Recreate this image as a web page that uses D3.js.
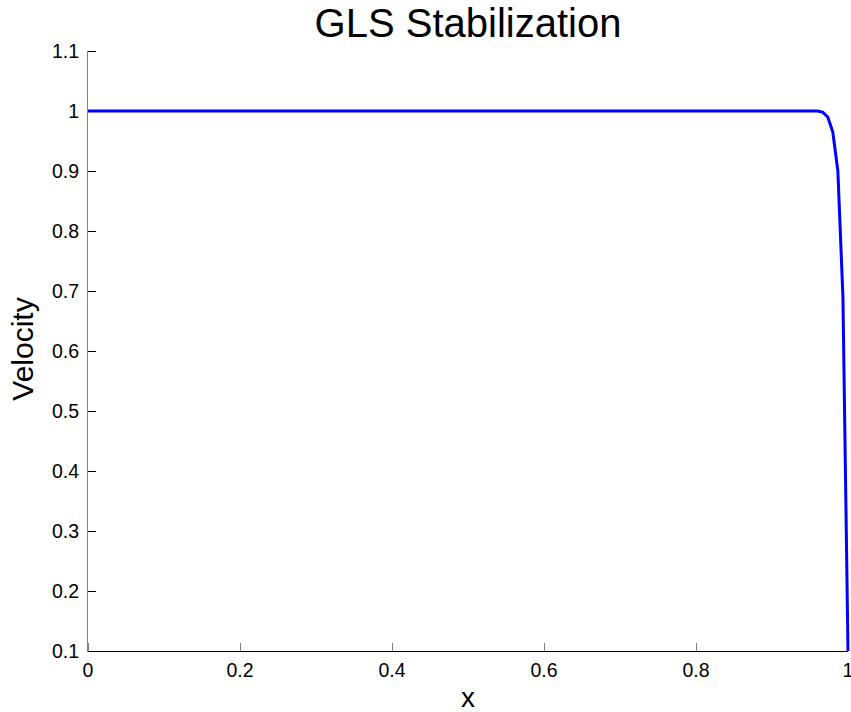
<!DOCTYPE html>
<html>
<head>
<meta charset="utf-8">
<script src="https://cdn.jsdelivr.net/npm/d3@7"></script>
<style>
  html, body { margin: 0; padding: 0; background: #fff; }
  svg { display: block; font-family: "Liberation Sans", Arial, sans-serif; }
</style>
</head>
<body>
<svg id="chart" width="851" height="712"></svg>
<script>
// Velocity profile along x (GLS-stabilized solution, boundary layer at x = 1)
const xNodes    = [0, 0.96, 0.966667, 0.973333, 0.98, 0.986667, 0.993333, 1.0];
const velocity  = [1, 1,    0.998,    0.99,     0.965, 0.90,    0.69,     0.1];

const xTicks = [0, 0.2, 0.4, 0.6, 0.8, 1];
const yTicks = [0.1, 0.2, 0.3, 0.4, 0.5, 0.6, 0.7, 0.8, 0.9, 1, 1.1];
const yTickLabels = ["0.1", "0.2", "0.3", "0.4", "0.5", "0.6", "0.7", "0.8", "0.9", "1", "1.1"];
const xTickLabels = ["0", "0.2", "0.4", "0.6", "0.8", "1"];

const titleText = "GLS Stabilization";
const xLabel = "x";
const yLabel = "Velocity";

const svg = d3.select("#chart");
const plotLeft = 88, plotRight = 848, plotTop = 51, plotBottom = 651;

const x = d3.scaleLinear().domain([0, 1]).range([plotLeft, plotRight]);
const y = d3.scaleLinear().domain([0.1, 1.1]).range([plotBottom, plotTop]);

// x axis (ticks point inward)
const gx = svg.append("g").attr("transform", `translate(0,${plotBottom})`);
gx.append("line")
  .attr("x1", plotLeft).attr("x2", plotRight).attr("y1", 0.5).attr("y2", 0.5)
  .attr("stroke", "#000").attr("stroke-width", 1);
gx.selectAll("line.tick").data(xTicks).join("line")
  .attr("class", "tick")
  .attr("x1", d => Math.round(x(d)) + 0.5).attr("x2", d => Math.round(x(d)) + 0.5)
  .attr("y1", 0).attr("y2", -8)
  .attr("stroke", "#808080").attr("stroke-width", 1);
gx.selectAll("text").data(xTicks).join("text")
  .attr("x", d => x(d)).attr("y", 26)
  .attr("text-anchor", "middle")
  .attr("font-size", 19.5).attr("fill", "#000")
  .text((d, i) => xTickLabels[i]);

// y axis (ticks point inward)
const gy = svg.append("g");
gy.append("line")
  .attr("x1", plotLeft - 0.5).attr("x2", plotLeft - 0.5).attr("y1", plotTop).attr("y2", plotBottom + 1)
  .attr("stroke", "#808080").attr("stroke-width", 1);
gy.selectAll("line.tick").data(yTicks).join("line")
  .attr("class", "tick")
  .attr("x1", plotLeft).attr("x2", plotLeft + 8)
  .attr("y1", d => Math.round(y(d)) + 0.5).attr("y2", d => Math.round(y(d)) + 0.5)
  .attr("stroke", "#000").attr("stroke-width", 1);
gy.selectAll("text").data(yTicks).join("text")
  .attr("x", 79).attr("y", d => y(d) + 7)
  .attr("text-anchor", "end")
  .attr("font-size", 19.5).attr("fill", "#000")
  .text((d, i) => yTickLabels[i]);

// velocity curve
const line = d3.line().x(d => x(d)).y((d, i) => y(velocity[i]));
svg.append("path")
  .datum(xNodes)
  .attr("d", line)
  .attr("fill", "none")
  .attr("stroke", "#0000ff")
  .attr("stroke-width", 3)
  .attr("stroke-linejoin", "round");

// title and axis labels
svg.append("text")
  .attr("x", (plotLeft + plotRight) / 2).attr("y", 37)
  .attr("text-anchor", "middle")
  .attr("font-size", 40).attr("fill", "#000")
  .text(titleText);

svg.append("text")
  .attr("x", (plotLeft + plotRight) / 2).attr("y", 707)
  .attr("text-anchor", "middle")
  .attr("font-size", 28).attr("fill", "#000")
  .text(xLabel);

svg.append("text")
  .attr("transform", `translate(33,349) rotate(-90)`)
  .attr("text-anchor", "middle")
  .attr("font-size", 30).attr("fill", "#000")
  .text(yLabel);
</script>
</body>
</html>
